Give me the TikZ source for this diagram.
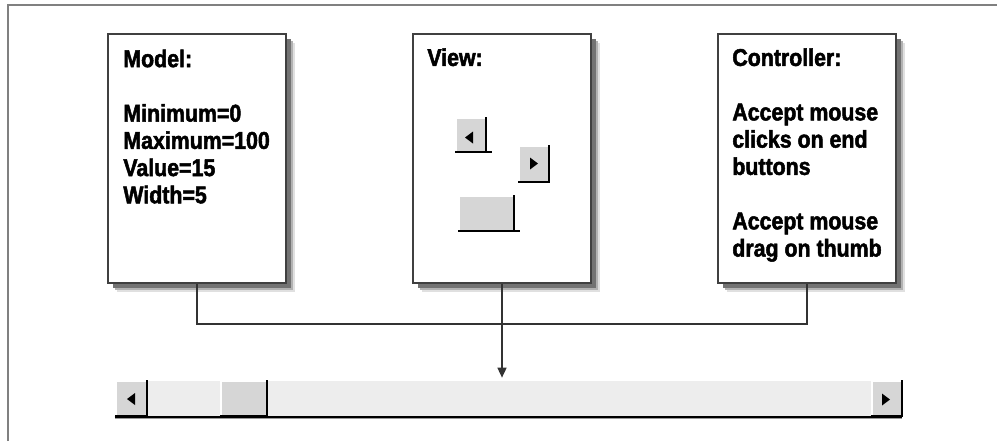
\documentclass[tikz,border=0pt]{standalone}
\usepackage{fontspec}
\setmainfont{Liberation Sans}[FakeStretch=0.88,BoldFeatures={FakeBold=2}]
\usetikzlibrary{arrows.meta}

% a raised button, corners (x1,y1) and (x2,y2) in pixels
\newcommand{\knob}[4]{%
  \fill[black!16] (#1,#2) rectangle (#3,#4);
  \draw[white,line width=0.8pt] (#1+1,#4-1) -- (#1+1,#2+1) -- (#3-1,#2+1);
  \draw[line width=1.2pt] (#3,#2) -- (#3,#4) -- (#1,#4);
}
% small arrow heads on the buttons
\newcommand{\tipleft}[2]{\fill (#1+4,#2-6) -- (#1-4,#2) -- (#1+4,#2+6) -- cycle;}
\newcommand{\tipright}[2]{\fill (#1-4,#2-6) -- (#1+4,#2) -- (#1-4,#2+6) -- cycle;}

\begin{document}
\begin{tikzpicture}[x=0.02cm,y=-0.02cm,
    panel/.style={draw=black!75,line width=1.1pt,fill=white,inner sep=0pt,
      minimum width=3.56cm,minimum height=4.98cm},
    paneltext/.style={anchor=north west,inner sep=0pt,align=left,
      font=\fontsize{13.8}{15.5}\selectfont\bfseries},
    wire/.style={black!80,line width=0.9pt},
    trough/.style={fill=black!7,inner sep=0pt,minimum width=15.74cm,minimum height=0.72cm}]
    \useasboundingbox (0,0) rectangle (997,441);
    %frame
    \draw[black!50,line width=1.1pt] (8,441) -- (8,5) -- (997,5);

    %shadows of the three parts
    \foreach \px in {108,413,718} {
      \fill[black!12] (\px+9,43) rectangle (\px+187,292);
      \fill[black!30] (\px+7,41) rectangle (\px+185,290);
      \fill[black!55] (\px+5,39) rectangle (\px+183,288);
    }
    %the three parts
    \node[panel] (model) at (197,158.5) {};
    \node[panel] (view) at (502,158.5) {};
    \node[panel] (ctrl) at (807,158.5) {};

    \node[paneltext] (modeltext) at (123,49.2)
      {Model:\\ \mbox{}\\ Minimum=0\\ Maximum=100\\ Value=15\\ Width=5};
    \node[paneltext] (viewtext) at (427,48) {View:};
    \node[paneltext] (ctrltext) at (732,48)
      {Controller:\\ \mbox{}\\ Accept mouse\\ clicks on end\\ buttons\\ \mbox{}\\
       Accept mouse\\ drag on thumb};

    %pieces of the view
    \knob{455}{117}{486}{152}
    \draw[line width=1.2pt] (486,152) -- (492,152);
    \tipleft{469}{137.5}
    \knob{518}{145}{549}{182}
    \tipright{534}{163.5}
    \knob{458}{195}{514}{231}
    \draw[line width=1.2pt] (514,231) -- (520,231);

    %the scrollbar
    \node[trough] (bar) at (508.5,398.5) {};
    \draw[black!40,line width=1pt] ([yshift=-0.03cm]bar.south west) -- ([yshift=-0.03cm]bar.south east);
    \draw[line width=1.2pt] (bar.south west) -- (bar.south east);
    \knob{115}{380}{147}{416}
    \tipleft{131}{399}
    \knob{220}{380}{267}{416}
    \knob{871}{380}{902}{416}
    \tipright{886}{399.5}

    %connections
    \coordinate (bus) at (502,324);
    \draw[wire] (model.south) |- (bus) -| (ctrl.south);
    \draw[wire,-{Triangle[width=0.18cm,length=0.2cm]}] (view.south) -- ([yshift=0.05cm]view.south |- bar.north);
\end{tikzpicture}
\end{document}
